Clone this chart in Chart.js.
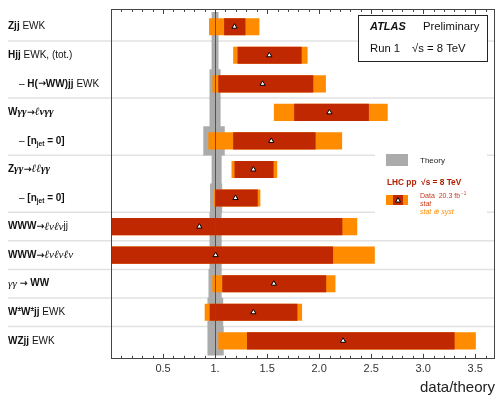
<!DOCTYPE html>
<html>
<head>
<meta charset="utf-8">
<script src="https://cdn.jsdelivr.net/npm/chart.js@4.4.1/dist/chart.umd.min.js"></script>
<style>
  html, body { margin: 0; padding: 0; background: #fff; }
  #wrap { width: 500px; height: 395px; }
</style>
</head>
<body>
<div id="wrap"><canvas id="ratioChart" width="500" height="395"></canvas></div>
<script>
// measurements, top to bottom  (*bold*  _italic_  ^sup^  ~sub~)
var categories = [
  '*Zjj* EWK',
  '*Hjj* EWK, (tot.)',
  '\u2013 *H(\u2192WW)jj* EWK',
  '*W_\u03b3\u03b3_\u2192_\u2113\u03bd\u03b3\u03b3_*',
  '\u2013 *[n~jet~ = 0]*',
  '*Z_\u03b3\u03b3_\u2192_\u2113\u2113\u03b3\u03b3_*',
  '\u2013 *[n~jet~ = 0]*',
  '*WWW\u2192*_\u2113\u03bd\u2113\u03bd_jj',
  '*WWW\u2192*_\u2113\u03bd\u2113\u03bd\u2113\u03bd_',
  '_\u03b3\u03b3_ *\u2192 WW*',
  '*W^\u00b1^W^\u00b1^jj* EWK',
  '*WZjj* EWK'
];
var indented = [false, false, true, false, true, false, true, false, false, false, false, false];
var rows = [0, 1, 2, 3, 4, 5, 6, 7, 8, 9, 10, 11];

// data / theory
var central  = [1.187, 1.521, 1.457, 2.099, 1.540, 1.368, 1.196, 0.849, 1.005, 1.565, 1.368, 2.230];
var statLo   = [1.087, 1.216, 1.031, 1.760, 1.174, 1.187, 1.000, -0.40, -0.30, 1.069, 0.948, 1.307];
var statHi   = [1.292, 1.832, 1.944, 2.478, 1.966, 1.562, 1.410, 2.223, 2.134, 2.068, 1.791, 3.302];
var totLo    = [0.942, 1.174, 0.974, 1.565, 0.935, 1.158, 0.990, -0.70, -0.60, 0.973, 0.900, 1.031];
var totHi    = [1.426, 1.889, 2.065, 2.659, 2.221, 1.597, 1.435, 2.366, 2.535, 2.157, 1.836, 3.506];
var theoryLo = [0.970, 0.970, 0.950, 0.950, 0.890, 0.970, 0.955, 0.950, 0.950, 0.940, 0.930, 0.930];
var theoryHi = [1.030, 1.030, 1.050, 1.050, 1.090, 1.060, 1.065, 1.060, 1.060, 1.060, 1.075, 1.080];

// separators sit between these rows
var separators = [0.5, 2.5, 4.5, 6.5, 7.5, 8.5, 9.5, 10.5];

var tickValues = [0.5, 1, 1.5, 2, 2.5, 3, 3.5];
var tickLabels = ['0.5', '1.', '1.5', '2.0', '2.5', '3.0', '3.5'];

var RED = '#bf2800';
var ORANGE = '#ff8c00';
var GRAY = '#ababab';
var SANS = "'Liberation Sans', Arial, Helvetica, sans-serif";
var SERIF = "'Liberation Serif', 'DejaVu Serif', serif";
var ARROW = "'DejaVu Sans', sans-serif";

Chart.defaults.font.family = SANS;

// tiny rich text writer for the row labels
function drawRich(ctx, str, x, y, size, color) {
  var bold = false, ital = false, sup = false, sub = false, buf = '';
  function put(text, family, s, dy) {
    ctx.font = (ital ? 'italic ' : '') + (bold ? 'bold ' : '') + s + 'px ' + family;
    ctx.fillStyle = color;
    ctx.fillText(text, x, y + dy);
    x += ctx.measureText(text).width;
  }
  function flush() {
    if (!buf) return;
    var s = (sup || sub) ? size * 0.65 : size;
    if (ital) s *= 1.12;
    var dy = sup ? -size * 0.33 : (sub ? size * 0.28 : 0);
    put(buf, ital ? SERIF : SANS, s, dy);
    buf = '';
  }
  for (var k = 0; k < str.length; k++) {
    var ch = str[k];
    if (ch === '*') { flush(); bold = !bold; }
    else if (ch === '_') { flush(); ital = !ital; }
    else if (ch === '^') { flush(); sup = !sup; }
    else if (ch === '~') { flush(); sub = !sub; }
    else if (ch === '\u2192') {
      flush();
      var wasItal = ital; ital = false;
      put(ch, ARROW, size * 0.95, 0);
      ital = wasItal;
    }
    else buf += ch;
  }
  flush();
  return x;
}

var decor = {
  id: 'atlasDecor',
  beforeDatasetsDraw: function (chart) {
    var c = chart.ctx, a = chart.chartArea, y = chart.scales.y;
    c.save();
    c.strokeStyle = '#e2e2e2';
    c.lineWidth = 1.5;
    separators.forEach(function (v) {
      var py = y.getPixelForValue(v);
      c.beginPath(); c.moveTo(8, py); c.lineTo(a.right, py); c.stroke();
    });
    c.restore();
  },
  beforeDatasetDraw: function (chart, args) {
    // reference line at data/theory = 1, under the markers but over the bars
    if (args.index !== 0) return;
    var c = chart.ctx, a = chart.chartArea;
    var px = Math.round(chart.scales.x.getPixelForValue(1)) + 0.5;
    c.save();
    c.strokeStyle = '#555';
    c.lineWidth = 1;
    c.beginPath(); c.moveTo(px, a.top); c.lineTo(px, a.bottom); c.stroke();
    c.restore();
  },
  afterDatasetsDraw: function (chart) {
    var c = chart.ctx, a = chart.chartArea, x = chart.scales.x;
    c.save();
    c.strokeStyle = '#444';
    c.lineWidth = 1;
    c.strokeRect(Math.round(a.left) + 0.5, Math.round(a.top) + 0.5,
                 Math.round(a.right - a.left) - 1, Math.round(a.bottom - a.top) - 1);
    // inward ticks top and bottom
    x.ticks.forEach(function (t) {
      if (t.value <= x.min || t.value >= x.max) return;
      var px = Math.round(x.getPixelForValue(t.value)) + 0.5;
      var len = Math.round(t.value * 10) % 5 === 0 ? 5 : 3;
      c.beginPath();
      c.moveTo(px, a.bottom); c.lineTo(px, a.bottom - len);
      c.moveTo(px, a.top); c.lineTo(px, a.top + len);
      c.stroke();
    });
    c.restore();
  },
  afterDraw: function (chart) {
    var c = chart.ctx, y = chart.scales.y;
    c.save();
    c.textBaseline = 'middle';
    c.textAlign = 'left';
    categories.forEach(function (lab, i) {
      drawRich(c, lab, indented[i] ? 19 : 8, y.getPixelForValue(rows[i]), 10, '#111');
    });

    // ATLAS box
    c.fillStyle = '#fff';
    c.fillRect(358, 15, 129, 46);
    c.strokeStyle = '#222';
    c.lineWidth = 1;
    c.strokeRect(358.5, 15.5, 129, 46);
    c.fillStyle = '#111';
    c.font = 'italic bold 11px ' + SANS;
    c.fillText('ATLAS', 370, 27);
    c.font = '11.3px ' + SANS;
    c.fillText('Preliminary', 423, 27);
    c.fillText('Run 1', 370, 49);
    c.fillText('\u221As = 8 TeV', 412, 49);

    // theory / data legend
    c.fillStyle = '#fff';
    c.fillRect(375, 148, 112, 68);
    c.fillStyle = GRAY;
    c.fillRect(386, 154, 22, 12);
    c.fillStyle = '#222';
    c.font = '8px ' + SANS;
    c.fillText('Theory', 420, 161);
    c.fillStyle = '#b02000';
    c.font = 'bold 8.3px ' + SANS;
    c.fillText('LHC pp  \u221As = 8 TeV', 387, 183);
    c.fillStyle = ORANGE;
    c.fillRect(386, 195, 22, 10);
    c.fillStyle = RED;
    c.fillRect(393, 195, 10, 10);
    c.beginPath();
    c.moveTo(398, 197.5); c.lineTo(400.5, 202); c.lineTo(395.5, 202); c.closePath();
    c.fillStyle = '#fff'; c.fill();
    c.strokeStyle = '#000'; c.stroke();
    var ex = drawRich(c, 'Data  20.3 fb', 420, 196, 7, '#c8381a');
    drawRich(c, '^\u22121^', ex + 1, 196, 7, '#c8381a');
    c.font = 'italic 7px ' + SANS;
    c.fillStyle = '#c8381a';
    c.fillText('stat', 420, 204.5);
    c.fillStyle = ORANGE;
    c.fillText('stat \u2295 syst', 420, 212.5);
    c.restore();
  }
};

function band(lo, hi) {
  return rows.map(function (i) { return { x: [lo[i], hi[i]], y: i }; });
}

var ctx = document.getElementById('ratioChart').getContext('2d');
var chart = new Chart(ctx, {
  type: 'bar',
  data: {
    datasets: [
      {
        type: 'scatter',
        label: 'Data',
        data: rows.map(function (i) { return { x: central[i], y: i }; }),
        pointStyle: 'triangle',
        pointRadius: 3,
        backgroundColor: '#fff',
        borderColor: '#000',
        borderWidth: 1,
        order: 0
      },
      {
        label: 'stat',
        data: band(statLo, statHi),
        backgroundColor: RED,
        grouped: false,
        categoryPercentage: 1,
        barPercentage: 0.6,
        order: 1
      },
      {
        label: 'stat \u2295 syst',
        data: band(totLo, totHi),
        backgroundColor: ORANGE,
        grouped: false,
        categoryPercentage: 1,
        barPercentage: 0.6,
        order: 2
      },
      {
        label: 'Theory',
        data: band(theoryLo, theoryHi),
        backgroundColor: GRAY,
        grouped: false,
        categoryPercentage: 1,
        barPercentage: 1,
        order: 3
      }
    ]
  },
  options: {
    indexAxis: 'y',
    responsive: false,
    animation: false,
    layout: { padding: { left: 111, right: 2, top: 9, bottom: 0 } },
    plugins: { legend: { display: false }, tooltip: { enabled: false } },
    scales: {
      x: {
        type: 'linear',
        min: 0,
        max: 3.69,
        grid: { display: false, drawTicks: false },
        border: { display: false },
        ticks: {
          stepSize: 0.1,
          autoSkip: false,
          includeBounds: false,
          maxRotation: 0,
          padding: 4,
          color: '#333',
          font: { size: 11 },
          callback: function (v) {
            for (var k = 0; k < tickValues.length; k++) {
              if (Math.abs(v - tickValues[k]) < 1e-6) return tickLabels[k];
            }
            return '';
          }
        },
        title: {
          display: true,
          text: 'data/theory',
          align: 'end',
          color: '#222',
          font: { size: 15, lineHeight: 1 },
          padding: { top: 0, bottom: 0 }
        }
      },
      y: {
        type: 'linear',
        reverse: true,
        offset: false,
        min: -0.62,
        max: 11.63,
        display: false,
        ticks: { stepSize: 1, includeBounds: false }
      }
    }
  },
  plugins: [decor]
});
</script>
</body>
</html>
